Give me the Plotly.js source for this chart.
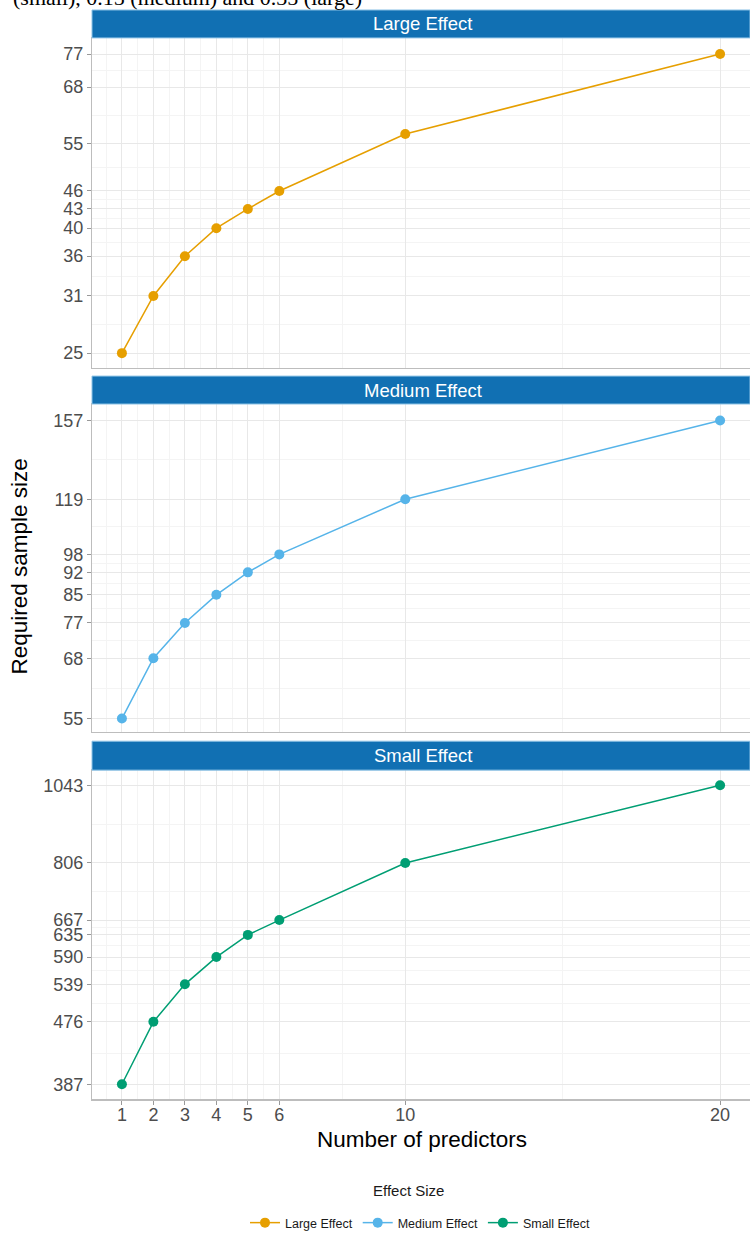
<!DOCTYPE html>
<html>
<head>
<meta charset="utf-8">
<script src="https://cdn.plot.ly/plotly-3.0.1.min.js"></script>
<style>html,body{margin:0;padding:0;background:#fff;}#chart{width:750px;height:1238px;}</style>
</head>
<body>
<div id="chart"></div>
<script>
// ---- data ----
const predictors = [1, 2, 3, 4, 5, 6, 10, 20];
const largeEffect = [25, 31, 36, 40, 43, 46, 57, 77];
const mediumEffect = [55, 68, 77, 85, 92, 98, 119, 157];
const smallEffect = [387, 476, 539, 590, 635, 667, 806, 1043];
const xTickVals = [1, 2, 3, 4, 5, 6, 10, 20];
const largeTicks = [25, 31, 36, 40, 43, 46, 55, 68, 77];
const mediumTicks = [55, 68, 77, 85, 92, 98, 119, 157];
const smallTicks = [387, 476, 539, 590, 635, 667, 806, 1043];
const panelNames = ["Large Effect", "Medium Effect", "Small Effect"];
const seriesColors = ["#E69F00", "#56B4E9", "#009E73"];

const W = 750, H = 1238;
const px = v => v / W;
const py = v => 1 - v / H;

function midLin(t) { const m = [t[0] - (t[1] - t[0]) / 2]; for (let i = 0; i < t.length - 1; i++) m.push((t[i] + t[i + 1]) / 2); return m; }
function midLog(t) { const m = []; for (let i = 0; i < t.length - 1; i++) m.push(Math.sqrt(t[i] * t[i + 1])); return m; }

const font = "Liberation Sans, Arial, sans-serif";
const gridMajor = "#E8E8E8", gridMinor = "#F4F4F4", border = "#BDBDBD";

// panel pixel bounds [top, bottom]
const panels = [[38, 369], [405, 734], [772, 1102]];
const strips = [[10, 38], [377, 405], [743, 772]];
const yRanges = [[1.3735, 1.9128], [1.7195, 2.221], [2.566, 3.040]];
const yTicks = [largeTicks, mediumTicks, smallTicks];
const yVals = [largeEffect, mediumEffect, smallEffect];

const traces = [];
const layout = {
  width: W, height: H,
  margin: {l: 0, r: 0, t: 0, b: 0},
  paper_bgcolor: "#fff", plot_bgcolor: "#fff",
  font: {family: font, color: "#4D4D4D"},
  showlegend: true,
  legend: {orientation: "h", x: px(420), xanchor: "center", y: py(1226), yanchor: "middle",
           font: {size: 12.5, color: "#1a1a1a", family: font}, itemwidth: 30, tracegroupgap: 0},
  shapes: [], annotations: []
};

for (let i = 0; i < 3; i++) {
  const s = i === 0 ? "" : String(i + 1);
  traces.push({
    x: predictors, y: yVals[i], name: panelNames[i],
    type: "scatter", mode: "lines+markers",
    xaxis: "x" + s, yaxis: "y" + s,
    line: {color: seriesColors[i], width: 1.5},
    marker: {color: seriesColors[i], size: 10}
  });
  const isBottom = i === 2;
  layout["xaxis" + s] = {
    domain: [px(92), 1], anchor: "y" + s,
    range: [0.05, 20.95], type: "linear",
    tickmode: "array", tickvals: xTickVals, ticktext: xTickVals.map(String),
    showticklabels: isBottom, ticks: isBottom ? "outside" : "", ticklen: 4, tickcolor: "#999",
    ticklabelstandoff: -5,
    tickfont: {size: 18, color: "#4D4D4D"},
    showgrid: true, gridcolor: gridMajor, gridwidth: 1,
    minor: {tickmode: "array", tickvals: midLin(xTickVals), showgrid: true, gridcolor: gridMinor, gridwidth: 1, ticks: ""},
    zeroline: false, showline: true, linecolor: border, linewidth: 1.2, mirror: true,
    fixedrange: true
  };
  if (i > 0) layout["xaxis" + s].matches = "x";
  layout["yaxis" + s] = {
    domain: [py(panels[i][1]), py(panels[i][0])], anchor: "x" + s,
    type: "log", range: yRanges[i],
    tickmode: "array", tickvals: yTicks[i], ticktext: yTicks[i].map(String),
    ticks: "outside", ticklen: 4, tickcolor: "#999",
    tickfont: {size: 18, color: "#4D4D4D"},
    showgrid: true, gridcolor: gridMajor, gridwidth: 1,
    minor: {tickmode: "array", tickvals: midLog(yTicks[i]), showgrid: true, gridcolor: gridMinor, gridwidth: 1, ticks: ""},
    zeroline: false, showline: true, linecolor: border, linewidth: 1.2, mirror: true,
    fixedrange: true
  };
  // strip
  layout.shapes.push({type: "rect", xref: "paper", yref: "paper",
    x0: px(92), x1: 1, y0: py(strips[i][1]), y1: py(strips[i][0]),
    fillcolor: "#1170B3", line: {color: "#8EC3E6", width: 1}, layer: "above"});
  layout.annotations.push({xref: "paper", yref: "paper", x: px(423), y: py((strips[i][0] + strips[i][1]) / 2),
    xanchor: "center", yanchor: "middle", showarrow: false, text: panelNames[i],
    font: {size: 18.5, color: "#FFFFFF", family: font}});
}

layout.annotations.push(
  {xref: "paper", yref: "paper", x: px(20), y: py(568), xanchor: "center", yanchor: "middle",
   textangle: -90, showarrow: false, text: "Required sample size", font: {size: 22.5, color: "#000", family: font}},
  {xref: "paper", yref: "paper", x: px(422), y: py(1142), xanchor: "center", yanchor: "middle",
   showarrow: false, text: "Number of predictors", font: {size: 22.5, color: "#000", family: font}},
  {xref: "paper", yref: "paper", x: px(408), y: py(1193), xanchor: "center", yanchor: "middle",
   showarrow: false, text: "Effect Size", font: {size: 15, color: "#1a1a1a", family: font}},
  {xref: "paper", yref: "paper", x: px(11), y: py(12), xanchor: "left", yanchor: "bottom",
   showarrow: false, text: "(small), 0.15 (medium) and 0.35 (large)", font: {size: 22, color: "#000", family: "Liberation Serif, Times New Roman, serif"}}
);

Plotly.newPlot("chart", traces, layout, {displayModeBar: false, staticPlot: true});
</script>
</body>
</html>
